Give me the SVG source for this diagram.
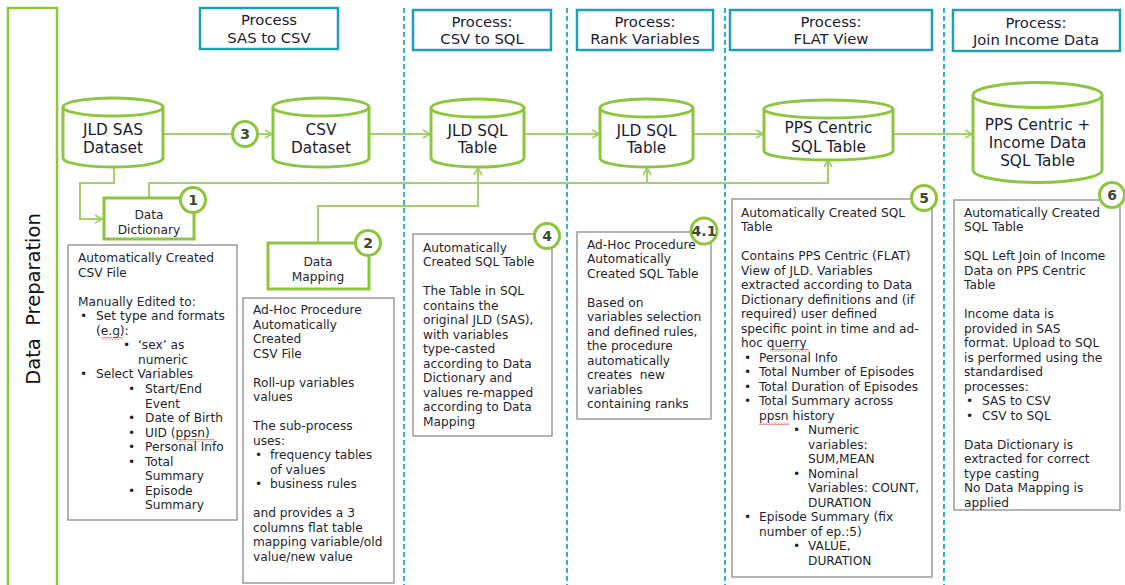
<svg xmlns="http://www.w3.org/2000/svg" width="1125" height="585" viewBox="0 0 1125 585">
<style>
.t{font-family:"DejaVu Sans",Verdana,sans-serif;font-size:12.2px;fill:#1f1f2e}
.h{font-family:"DejaVu Sans",Verdana,sans-serif;font-size:14.8px;fill:#1b1b33;text-anchor:middle}
.c{font-family:"DejaVu Sans",Verdana,sans-serif;font-size:15.3px;fill:#1b1b33;text-anchor:middle}
.m{text-anchor:middle}
.n{font-family:"DejaVu Sans",Verdana,sans-serif;font-weight:bold;font-size:14px;fill:#3b4a2e;text-anchor:middle}
.cyl{fill:#fff;stroke:#8cc63f;stroke-width:3}
.gbox{fill:#fff;stroke:#8cc63f;stroke-width:3}
.pbox{fill:#fff;stroke:#1ea0b2;stroke-width:2.5}
.tbox{fill:#fff;stroke:#8c8c8c;stroke-width:1.3}
.num{fill:#fff;stroke:#8cc63f;stroke-width:3}
.dash{stroke:#3fb0c0;stroke-width:2;stroke-dasharray:5 3;fill:none}
.con{fill:none;stroke:#a3d06a;stroke-width:2}
</style>
<defs>
<marker id="arr" markerWidth="10" markerHeight="10" refX="8" refY="5" orient="auto" markerUnits="userSpaceOnUse">
<path d="M1,1 L8,5 L1,9" fill="none" stroke="#a3d06a" stroke-width="1.8"/>
</marker>
<pattern id="sq" width="3" height="3" patternUnits="userSpaceOnUse">
<path d="M0,2.5 L1.5,0.6 L3,2.5" fill="none" stroke="#e03030" stroke-width="0.8"/>
</pattern>
</defs>
<rect width="1125" height="585" fill="#fff"/>

<g id="lane">
<rect x="8" y="8" width="49" height="590" fill="#fff" stroke="#8cc63f" stroke-width="2.5"/>
<text x="0" y="0" transform="translate(40,299) rotate(-90)" font-family="DejaVu Sans,Verdana,sans-serif" font-size="19.5" fill="#111" text-anchor="middle" xml:space="preserve">Data  Preparation</text>
</g>

<g id="separators">
<line class="dash" x1="404" y1="8" x2="404" y2="585"/>
<line class="dash" x1="567" y1="8" x2="567" y2="585"/>
<line class="dash" x1="725" y1="8" x2="725" y2="585"/>
<line class="dash" x1="944" y1="8" x2="944" y2="585"/>
</g>

<g id="process-sas-csv"><rect class="pbox" x="200" y="8" width="138" height="41"/><text class="h" x="269" y="25">Process</text><text class="h" x="269" y="43">SAS to CSV</text></g>
<g id="process-csv-sql"><rect class="pbox" x="413" y="10" width="138" height="40"/><text class="h" x="482" y="27">Process:</text><text class="h" x="482" y="44">CSV to SQL</text></g>
<g id="process-rank"><rect class="pbox" x="577" y="10" width="136" height="40"/><text class="h" x="645" y="27">Process:</text><text class="h" x="645" y="44">Rank Variables</text></g>
<g id="process-flat"><rect class="pbox" x="730" y="10" width="202" height="40"/><text class="h" x="831" y="27">Process:</text><text class="h" x="831" y="44">FLAT View</text></g>
<g id="process-join"><rect class="pbox" x="953" y="10" width="167" height="41"/><text class="h" x="1036" y="28">Process:</text><text class="h" x="1036" y="45">Join Income Data</text></g>

<g id="connectors">
<line class="con" x1="163" y1="134" x2="232" y2="134"/>
<line class="con" x1="258" y1="134" x2="272" y2="134" marker-end="url(#arr)"/>
<line class="con" x1="369" y1="134" x2="430" y2="134" marker-end="url(#arr)"/>
<line class="con" x1="524" y1="134" x2="599" y2="134" marker-end="url(#arr)"/>
<line class="con" x1="693" y1="134" x2="763" y2="134" marker-end="url(#arr)"/>
<line class="con" x1="893" y1="134" x2="972" y2="134" marker-end="url(#arr)"/>
<path class="con" d="M114,167 V183 H80 V219 H102" marker-end="url(#arr)"/>
<path class="con" d="M149,198 V183 H828 V160" marker-end="url(#arr)"/>
<path class="con" d="M647,183 V168" marker-end="url(#arr)"/>
<path class="con" d="M318,243 V206 H478 V168" marker-end="url(#arr)"/>
</g>

<g id="jld-sas">
<path class="cyl" d="M63,107 A50,9 0 0 1 163,107 V158 A50,9 0 0 1 63,158 Z"/>
<path class="cyl" d="M63,107 A50,9 0 0 0 163,107" fill="none"/>
<text class="c" x="113" y="135">JLD SAS</text><text class="c" x="113" y="153">Dataset</text>
</g>
<g id="csv-dataset">
<path class="cyl" d="M273,107 A48,9 0 0 1 369,107 V158 A48,9 0 0 1 273,158 Z"/>
<path class="cyl" d="M273,107 A48,9 0 0 0 369,107" fill="none"/>
<text class="c" x="321" y="135">CSV</text><text class="c" x="321" y="153">Dataset</text>
</g>
<g id="jld-sql-1">
<path class="cyl" d="M431,108 A46.5,9 0 0 1 524,108 V158 A46.5,9 0 0 1 431,158 Z"/>
<path class="cyl" d="M431,108 A46.5,9 0 0 0 524,108" fill="none"/>
<text class="c" x="477.5" y="136">JLD SQL</text><text class="c" x="477.5" y="153">Table</text>
</g>
<g id="jld-sql-2">
<path class="cyl" d="M600,108 A46.5,9 0 0 1 693,108 V158 A46.5,9 0 0 1 600,158 Z"/>
<path class="cyl" d="M600,108 A46.5,9 0 0 0 693,108" fill="none"/>
<text class="c" x="646.5" y="136">JLD SQL</text><text class="c" x="646.5" y="153">Table</text>
</g>
<g id="pps-centric">
<path class="cyl" d="M764,109 A64.5,9 0 0 1 893,109 V151 A64.5,9 0 0 1 764,151 Z"/>
<path class="cyl" d="M764,109 A64.5,9 0 0 0 893,109" fill="none"/>
<text class="c" x="828.5" y="133">PPS Centric</text><text class="c" x="828.5" y="152">SQL Table</text>
</g>
<g id="pps-income">
<path class="cyl" d="M973,95 A64.5,12.5 0 0 1 1102,95 V170 A64.5,12.5 0 0 1 973,170 Z"/>
<path class="cyl" d="M973,95 A64.5,12.5 0 0 0 1102,95" fill="none"/>
<text class="c" x="1037.5" y="130">PPS Centric +</text><text class="c" x="1037.5" y="148">Income Data</text><text class="c" x="1037.5" y="166">SQL Table</text>
</g>

<g id="step3"><circle class="num" cx="245" cy="134" r="12.5"/><text class="n" x="245" y="139">3</text></g>

<g id="data-dictionary">
<rect class="gbox" x="104" y="198" width="90" height="41"/>
<text class="t m" x="149" y="219">Data</text><text class="t m" x="149" y="234">Dictionary</text>
<circle class="num" cx="193" cy="200" r="12.5"/><text class="n" x="193" y="205">1</text>
</g>
<g id="data-mapping">
<rect class="gbox" x="268" y="243" width="101" height="46"/>
<text class="t m" x="318" y="266">Data</text><text class="t m" x="318" y="281">Mapping</text>
<circle class="num" cx="368" cy="243" r="12.5"/><text class="n" x="368" y="248">2</text>
</g>

<g id="note-1">
<rect class="tbox" x="68" y="245" width="169" height="275"/>
<text class="t" x="78" y="262">Automatically Created</text>
<text class="t" x="78" y="276.5">CSV File</text>
<text class="t" x="78" y="305.6">Manually Edited to:</text>
<text class="t" x="80" y="320.2">•</text><text class="t" x="96" y="320.2">Set type and formats</text>
<text class="t" x="96" y="334.7">(e.g):</text>
<text class="t" x="123" y="349.3">•</text><text class="t" x="138" y="349.3">‘sex’ as</text>
<text class="t" x="138" y="363.8">numeric</text>
<text class="t" x="80" y="378.4">•</text><text class="t" x="96" y="378.4">Select Variables</text>
<text class="t" x="128" y="392.9">•</text><text class="t" x="145" y="392.9">Start/End</text>
<text class="t" x="145" y="407.5">Event</text>
<text class="t" x="128" y="422">•</text><text class="t" x="145" y="422">Date of Birth</text>
<text class="t" x="128" y="436.6">•</text><text class="t" x="145" y="436.6">UID (ppsn)</text>
<text class="t" x="128" y="451.1">•</text><text class="t" x="145" y="451.1">Personal Info</text>
<text class="t" x="128" y="465.7">•</text><text class="t" x="145" y="465.7">Total</text>
<text class="t" x="145" y="480.2">Summary</text>
<text class="t" x="128" y="494.8">•</text><text class="t" x="145" y="494.8">Episode</text>
<text class="t" x="145" y="509.3">Summary</text>
</g>

<g id="note-2">
<rect class="tbox" x="243" y="298" width="151" height="285"/>
<text class="t" x="253" y="314">Ad-Hoc Procedure</text>
<text class="t" x="253" y="328.5">Automatically</text>
<text class="t" x="253" y="343">Created</text>
<text class="t" x="253" y="357.5">CSV File</text>
<text class="t" x="253" y="386.5">Roll-up variables</text>
<text class="t" x="253" y="401">values</text>
<text class="t" x="253" y="430">The sub-process</text>
<text class="t" x="253" y="444.5">uses:</text>
<text class="t" x="255" y="459">•</text><text class="t" x="270" y="459">frequency tables</text>
<text class="t" x="270" y="473.5">of values</text>
<text class="t" x="255" y="488">•</text><text class="t" x="270" y="488">business rules</text>
<text class="t" x="253" y="517">and provides a 3</text>
<text class="t" x="253" y="531.5">columns flat table</text>
<text class="t" x="253" y="546">mapping variable/old</text>
<text class="t" x="253" y="560.5">value/new value</text>
</g>

<g id="note-4">
<rect class="tbox" x="413" y="234" width="139" height="202"/>
<text class="t" x="423" y="251.5">Automatically</text>
<text class="t" x="423" y="266">Created SQL Table</text>
<text class="t" x="423" y="295">The Table in SQL</text>
<text class="t" x="423" y="309.5">contains the</text>
<text class="t" x="423" y="324">original JLD (SAS),</text>
<text class="t" x="423" y="338.5">with variables</text>
<text class="t" x="423" y="353">type-casted</text>
<text class="t" x="423" y="367.5">according to Data</text>
<text class="t" x="423" y="382">Dictionary and</text>
<text class="t" x="423" y="396.5">values re-mapped</text>
<text class="t" x="423" y="411">according to Data</text>
<text class="t" x="423" y="425.5">Mapping</text>
<circle class="num" cx="547" cy="236" r="12.5"/><text class="n" x="547" y="241">4</text>
</g>

<g id="note-4-1">
<rect class="tbox" x="577" y="232" width="134" height="187"/>
<text class="t" x="587" y="248.5">Ad-Hoc Procedure</text>
<text class="t" x="587" y="263">Automatically</text>
<text class="t" x="587" y="277.5">Created SQL Table</text>
<text class="t" x="587" y="306.5">Based on</text>
<text class="t" x="587" y="321">variables selection</text>
<text class="t" x="587" y="335.5">and defined rules,</text>
<text class="t" x="587" y="350">the procedure</text>
<text class="t" x="587" y="364.5">automatically</text>
<text class="t" x="587" y="379" xml:space="preserve">creates  new</text>
<text class="t" x="587" y="393.5">variables</text>
<text class="t" x="587" y="408">containing ranks</text>
<circle class="num" cx="704" cy="231" r="13"/><text class="n" x="704" y="236" font-size="13">4.1</text>
</g>

<g id="note-5">
<rect class="tbox" x="732" y="199" width="200" height="378"/>
<text class="t" x="741" y="216.5">Automatically Created SQL</text>
<text class="t" x="741" y="231">Table</text>
<text class="t" x="741" y="260">Contains PPS Centric (FLAT)</text>
<text class="t" x="741" y="274.5">View of JLD. Variables</text>
<text class="t" x="741" y="289">extracted according to Data</text>
<text class="t" x="741" y="303.5">Dictionary definitions and (if</text>
<text class="t" x="741" y="318">required) user defined</text>
<text class="t" x="741" y="332.5">specific point in time and ad-</text>
<text class="t" x="741" y="347">hoc querry</text>
<text class="t" x="744" y="361.5">•</text><text class="t" x="759" y="361.5">Personal Info</text>
<text class="t" x="744" y="376">•</text><text class="t" x="759" y="376">Total Number of Episodes</text>
<text class="t" x="744" y="390.5">•</text><text class="t" x="759" y="390.5">Total Duration of Episodes</text>
<text class="t" x="744" y="405">•</text><text class="t" x="759" y="405">Total Summary across</text>
<text class="t" x="759" y="419.5">ppsn history</text>
<text class="t" x="793" y="434">•</text><text class="t" x="808" y="434">Numeric</text>
<text class="t" x="808" y="448.5">variables:</text>
<text class="t" x="808" y="463">SUM,MEAN</text>
<text class="t" x="793" y="477.5">•</text><text class="t" x="808" y="477.5">Nominal</text>
<text class="t" x="808" y="492">Variables: COUNT,</text>
<text class="t" x="808" y="506.5">DURATION</text>
<text class="t" x="744" y="521">•</text><text class="t" x="759" y="521">Episode Summary (fix</text>
<text class="t" x="759" y="535.5">number of ep.:5)</text>
<text class="t" x="793" y="550">•</text><text class="t" x="808" y="550">VALUE,</text>
<text class="t" x="808" y="564.5">DURATION</text>
<circle class="num" cx="924" cy="198" r="12.5"/><text class="n" x="924" y="203">5</text>
</g>

<g id="note-6">
<rect class="tbox" x="954" y="200" width="166" height="310"/>
<text class="t" x="964" y="216.5">Automatically Created</text>
<text class="t" x="964" y="231">SQL Table</text>
<text class="t" x="964" y="260">SQL Left Join of Income</text>
<text class="t" x="964" y="274.5">Data on PPS Centric</text>
<text class="t" x="964" y="289">Table</text>
<text class="t" x="964" y="318">Income data is</text>
<text class="t" x="964" y="332.5">provided in SAS</text>
<text class="t" x="964" y="347">format. Upload to SQL</text>
<text class="t" x="964" y="361.5">is performed using the</text>
<text class="t" x="964" y="376">standardised</text>
<text class="t" x="964" y="390.5">processes:</text>
<text class="t" x="966" y="405">•</text><text class="t" x="982" y="405">SAS to CSV</text>
<text class="t" x="966" y="419.5">•</text><text class="t" x="982" y="419.5">CSV to SQL</text>
<text class="t" x="964" y="448.5">Data Dictionary is</text>
<text class="t" x="964" y="463">extracted for correct</text>
<text class="t" x="964" y="477.5">type casting</text>
<text class="t" x="964" y="492">No Data Mapping is</text>
<text class="t" x="964" y="506.5">applied</text>
<circle class="num" cx="1112" cy="195" r="12.5"/><text class="n" x="1112" y="200">6</text>
</g>

<g id="spellcheck">
<rect x="102" y="337" width="21" height="3" fill="url(#sq)"/>
<rect x="178" y="439" width="36" height="3" fill="url(#sq)"/>
<rect x="770" y="349" width="39" height="3" fill="url(#sq)"/>
<rect x="759" y="422" width="30" height="3" fill="url(#sq)"/>
</g>
</svg>
